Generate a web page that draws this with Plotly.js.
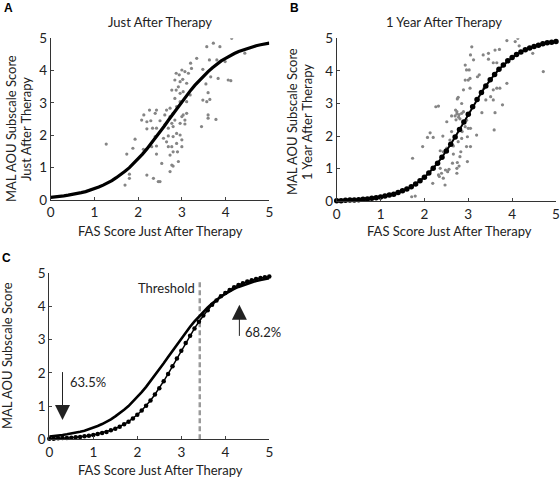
<!DOCTYPE html>
<html>
<head>
<meta charset="utf-8">
<script src="https://cdn.plot.ly/plotly-3.0.1.min.js"></script>
<style>html,body{margin:0;padding:0;background:#fff;}#chart{width:560px;height:479px;}</style>
</head>
<body>
<div id="chart"></div>
<script>
// ---------- DATA ----------
var tickVals = [0, 1, 2, 3, 4, 5];

// Panel A scatter: FAS just after therapy vs MAL AOU just after therapy
var scatterAx = [
  1.27,1.74,1.70,1.80,1.80,1.88,1.93,2.20,2.08,2.13,
  2.20,2.26,2.29,2.20,2.33,2.39,2.42,2.42,2.50,2.61,
  2.65,2.61,2.39,2.42,2.31,2.12,2.42,2.54,2.35,2.46,
  2.50,2.73,2.77,2.80,2.92,2.73,2.69,2.65,2.58,2.69,
  2.80,2.88,2.96,3.00,2.88,3.00,2.77,2.80,2.90,2.69,
  2.80,2.77,2.84,2.73,2.80,2.73,2.88,2.96,2.84,2.77,
  2.87,2.96,3.03,2.92,2.84,2.96,3.02,2.87,2.94,3.00,
  3.07,3.11,3.15,3.19,3.11,3.11,3.03,3.07,3.07,2.96,
  3.00,3.22,3.20,3.34,3.48,3.55,3.48,3.57,3.64,3.45,
  3.60,3.60,3.60,3.78,3.66,3.63,3.57,3.72,3.87,3.80,
  4.06,4.12,4.14,3.99,4.44,3.83
];
var scatterAy = [
  1.73,1.42,0.46,0.80,0.67,1.60,1.88,0.77,2.47,2.63,
  2.42,2.78,2.45,2.20,2.22,2.68,2.78,2.22,2.45,2.63,
  2.78,2.32,1.96,1.67,1.65,1.57,1.42,1.13,0.67,0.57,
  0.57,0.88,1.08,1.05,1.19,1.39,1.65,1.80,1.91,1.98,
  1.96,2.06,2.01,1.86,1.75,1.65,1.65,1.49,1.49,2.22,
  2.27,2.37,2.47,2.58,2.68,2.84,2.89,3.04,3.14,3.40,
  3.40,3.30,3.35,3.50,3.71,3.66,3.73,3.92,3.87,4.02,
  3.97,3.61,3.92,3.25,3.04,2.68,2.63,2.47,2.35,2.37,
  2.58,4.07,4.23,4.38,4.04,3.59,3.09,3.04,3.11,2.27,
  3.32,2.63,2.53,2.49,3.81,4.33,4.74,4.85,4.74,4.33,
  3.71,3.69,5.00,4.28,4.54,3.76
];

// Panel B scatter: FAS just after therapy vs MAL AOU 1 year after therapy
var scatterBx = [
  1.73,1.71,1.79,1.96,2.07,2.13,2.20,2.26,2.32,2.19,
  2.32,2.36,2.39,2.43,2.47,2.48,2.53,2.39,2.43,2.42,
  2.51,2.51,2.62,2.58,2.66,2.66,2.64,2.74,2.74,2.75,
  2.81,2.83,2.77,2.85,2.86,2.70,2.74,2.78,2.81,2.74,
  2.71,2.85,2.75,2.77,2.85,2.89,2.93,2.96,2.98,2.96,
  3.05,2.98,3.00,3.05,2.93,2.96,3.00,3.04,2.93,2.89,
  3.04,3.02,3.05,3.08,3.12,3.19,3.21,3.25,3.31,3.34,
  3.36,3.40,3.46,3.46,3.51,3.57,3.57,3.57,3.61,3.61,
  3.59,3.65,3.65,3.71,3.72,3.78,3.88,4.07,4.13,4.16,
  4.47,4.71,3.88,2.62,2.79,2.72,2.34,2.56,2.79,2.36
];
var scatterBy = [
  1.32,0.14,0.16,1.68,1.96,2.10,1.96,2.90,2.92,0.55,
  0.81,1.01,0.86,0.71,0.50,0.96,0.91,1.37,1.52,2.00,
  1.63,2.44,2.14,1.88,1.70,1.45,1.17,1.01,0.86,1.19,
  1.37,1.52,1.83,1.93,2.14,2.62,2.68,2.58,2.53,2.75,
  2.80,2.70,3.14,3.19,3.00,2.75,2.29,2.49,1.98,1.68,
  1.68,1.22,2.24,2.24,4.18,4.03,3.72,3.77,3.72,3.42,
  3.47,4.03,4.49,4.74,4.34,2.03,3.82,3.88,2.72,4.49,
  3.47,3.11,4.36,4.54,3.21,4.25,3.42,3.11,4.64,2.72,
  2.19,4.25,3.47,4.66,3.47,2.96,3.62,4.90,5.00,4.77,
  4.54,3.98,4.93,2.62,2.66,2.50,0.76,0.98,1.08,1.55
];

// Fitted curves, read at 0.1 steps of FAS score
var curveX = [
  0.0,0.1,0.2,0.3,0.4,0.5,0.6,0.7,0.8,0.9,
  1.0,1.1,1.2,1.3,1.4,1.5,1.6,1.7,1.8,1.9,
  2.0,2.1,2.2,2.3,2.4,2.5,2.6,2.7,2.8,2.9,
  3.0,3.1,3.2,3.3,3.4,3.5,3.6,3.7,3.8,3.9,
  4.0,4.1,4.2,4.3,4.4,4.5,4.6,4.7,4.8,4.9,5.0
];
// Just after therapy fit (solid)
var curveJust = [
  0.08,0.09,0.11,0.13,0.15,0.17,0.19,0.23,0.26,0.30,
  0.35,0.40,0.46,0.52,0.60,0.69,0.78,0.89,1.00,1.13,
  1.27,1.42,1.58,1.75,1.92,2.10,2.29,2.48,2.67,2.86,
  3.04,3.22,3.39,3.55,3.70,3.84,3.97,4.09,4.20,4.30,
  4.38,4.46,4.53,4.59,4.64,4.69,4.73,4.77,4.80,4.83,4.85
];
// 1 year after therapy fit (dotted)
var curveYear = [
  0.02,0.02,0.03,0.04,0.04,0.05,0.06,0.07,0.09,0.11,
  0.13,0.16,0.19,0.22,0.27,0.32,0.38,0.45,0.53,0.63,
  0.74,0.87,1.01,1.17,1.35,1.54,1.75,1.97,2.20,2.43,
  2.67,2.90,3.12,3.34,3.54,3.73,3.89,4.05,4.18,4.31,
  4.41,4.50,4.58,4.65,4.70,4.75,4.79,4.83,4.86,4.88,4.90
];

var thresholdX = 3.42;
var thresholdTop = 4.75;
var pctLow = "63.5%";
var pctHigh = "68.2%";

// ---------- LAYOUT HELPERS ----------
var W = 560, H = 479;
function px(x) { return x / W; }
function py(y) { return 1 - y / H; }
var FONT = 'Lato, "Open Sans", sans-serif';
var TXT = '#222';

function axisStyle(extra) {
  var a = {
    range: [0, 5], tickvals: tickVals, ticks: 'inside', ticklen: 3, tickwidth: 1,
    tickcolor: '#444', showline: true, linecolor: '#333', linewidth: 1,
    showgrid: false, zeroline: false, mirror: false, fixedrange: true,
    tickfont: { family: FONT, size: 13.5, color: TXT }
  };
  for (var k in extra) a[k] = extra[k];
  return a;
}

var scatterMarker = { color: '#858585', size: 3.2, symbol: 'circle' };

var traces = [
  { x: scatterAx, y: scatterAy, xaxis: 'x', yaxis: 'y', mode: 'markers', type: 'scatter', marker: scatterMarker, hoverinfo: 'skip' },
  { x: curveX, y: curveJust, xaxis: 'x', yaxis: 'y', mode: 'lines', type: 'scatter', line: { color: '#000', width: 3.2 }, cliponaxis: false },

  { x: scatterBx, y: scatterBy, xaxis: 'x2', yaxis: 'y2', mode: 'markers', type: 'scatter', marker: scatterMarker, hoverinfo: 'skip' },
  { x: curveX, y: curveYear, xaxis: 'x2', yaxis: 'y2', mode: 'lines+markers', type: 'scatter', line: { color: '#000', width: 2 }, marker: { color: '#000', size: 5.5 }, cliponaxis: false },

  { x: [thresholdX, thresholdX], y: [0, thresholdTop], xaxis: 'x3', yaxis: 'y3', mode: 'lines', type: 'scatter', line: { color: '#9a9a9a', width: 2.5, dash: '5px,3px' } },
  { x: curveX, y: curveJust, xaxis: 'x3', yaxis: 'y3', mode: 'lines', type: 'scatter', line: { color: '#000', width: 2.6 }, cliponaxis: false },
  { x: curveX, y: curveYear, xaxis: 'x3', yaxis: 'y3', mode: 'lines+markers', type: 'scatter', line: { color: '#000', width: 1.5 }, marker: { color: '#000', size: 4.5 }, cliponaxis: false }
];

function paperText(text, x, y, size, opts) {
  var a = { text: text, xref: 'paper', yref: 'paper', x: px(x), y: py(y), showarrow: false,
            xanchor: 'center', yanchor: 'middle', font: { family: FONT, size: size, color: TXT } };
  if (opts) for (var k in opts) a[k] = opts[k];
  return a;
}

var letterFont = { family: 'Liberation Sans, Arial, sans-serif', size: 12, color: '#000' };

var annotations = [
  paperText('<b>A</b>', 8, 8, 12, { font: letterFont }),
  paperText('<b>B</b>', 294, 8, 12, { font: letterFont }),
  paperText('<b>C</b>', 6, 258, 12, { font: letterFont }),

  paperText('Just After Therapy', 160, 22, 13),
  paperText('1 Year After Therapy', 444, 22, 13),

  paperText('FAS Score Just After Therapy', 160, 231, 13),
  paperText('FAS Score Just After Therapy', 449, 231, 13),
  paperText('FAS Score Just After Therapy', 160, 470, 13),

  paperText('MAL AOU Subscale Score', 11, 129, 13, { textangle: -90 }),
  paperText('Just After Therapy', 26, 129, 13, { textangle: -90 }),
  paperText('MAL AOU Subscale Score', 292, 122, 13, { textangle: -90 }),
  paperText('1 Year After Therapy', 307, 122, 13, { textangle: -90 }),
  paperText('MAL AOU Subscale Score', 7, 356, 13, { textangle: -90 }),

  // Panel C notes
  { text: 'Threshold', xref: 'x3', yref: 'y3', x: 3.36, y: 4.55, xanchor: 'right', yanchor: 'middle', showarrow: false, font: { family: FONT, size: 13, color: TXT } },
  { text: pctLow, xref: 'x3', yref: 'y3', x: 0.42, y: 1.73, xanchor: 'left', yanchor: 'middle', showarrow: false, font: { family: FONT, size: 13, color: TXT } },
  { text: pctHigh, xref: 'x3', yref: 'y3', x: 4.40, y: 3.24, xanchor: 'left', yanchor: 'middle', showarrow: false, font: { family: FONT, size: 13, color: TXT } },
  { text: '', xref: 'x3', yref: 'y3', x: 0.30, y: 0.58, axref: 'x3', ayref: 'y3', ax: 0.30, ay: 2.07, showarrow: true, arrowhead: 2, arrowsize: 3, arrowwidth: 1, arrowcolor: '#222' },
  { text: '', xref: 'x3', yref: 'y3', x: 4.32, y: 4.05, axref: 'x3', ayref: 'y3', ax: 4.32, ay: 3.07, showarrow: true, arrowhead: 2, arrowsize: 3, arrowwidth: 1, arrowcolor: '#222' }
];

var layout = {
  width: W, height: H,
  margin: { l: 0, r: 0, t: 0, b: 0 },
  paper_bgcolor: '#fff', plot_bgcolor: '#fff',
  showlegend: false,
  font: { family: FONT, color: TXT },
  xaxis: axisStyle({ domain: [px(50.7), px(269.3)], anchor: 'y' }),
  yaxis: axisStyle({ domain: [py(200), py(38.3)], anchor: 'x' }),
  xaxis2: axisStyle({ domain: [px(336.7), px(556)], anchor: 'y2' }),
  yaxis2: axisStyle({ domain: [py(201.3), py(38.3)], anchor: 'x2' }),
  xaxis3: axisStyle({ domain: [px(49.3), px(269.3)], anchor: 'y3' }),
  yaxis3: axisStyle({ domain: [py(439.3), py(273.3)], anchor: 'x3' }),
  annotations: annotations
};

Plotly.newPlot('chart', traces, layout, { displayModeBar: false, staticPlot: true });
</script>
</body>
</html>
